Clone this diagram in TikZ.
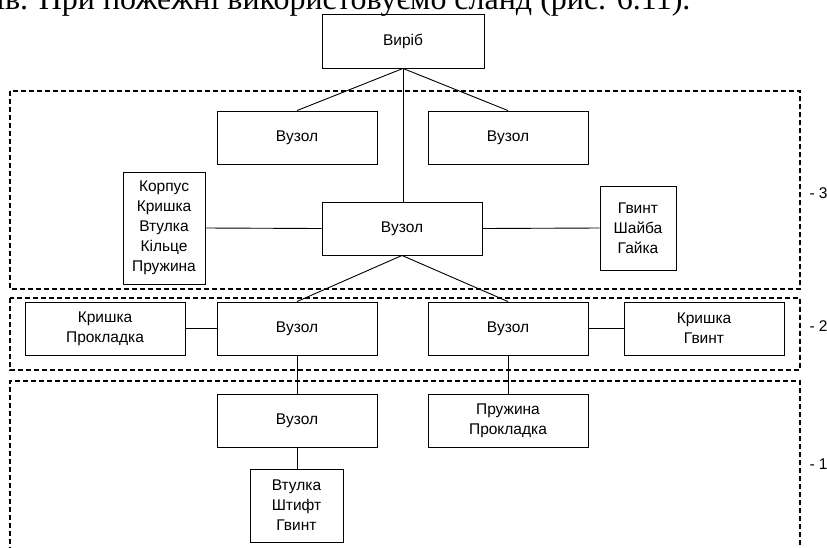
\documentclass[tikz,border=0pt]{standalone}
\usepackage{fontspec}
\setmainfont{Liberation Sans}
\newfontfamily\serifcap{Liberation Serif}
\begin{document}
\begin{tikzpicture}[x=1pt,y=-1pt,
  blk/.style={draw,line width=0.9pt,inner sep=0pt,align=center,
    font=\fontsize{15.5}{20}\selectfont},
  link/.style={line width=0.9pt},
  level/.style={line width=1.8pt,dash pattern=on 5pt off 3pt},
  lvl/.style={font=\fontsize{15.5}{18}\selectfont,anchor=west}]
\useasboundingbox (0,0) rectangle (827,547);
\clip (0,0) rectangle (827,547);

% running text line above the figure
\node[anchor=base west,inner sep=0pt,font=\serifcap\fontsize{32}{36}\selectfont] (txt) at (-4,9)
  {ів. При пожежні використовуємо сланд (рис. 6.11).};

% level frames
\draw[level] (10,91) rectangle (800,289);
\draw[level] (10,298) rectangle (800,370);
\draw[level] (10,560) -- (10,381) -- (800,381) -- (800,560);

% blocks
\node[blk,minimum width=162pt,minimum height=54pt] (top) at (403,41) {Виріб};
\node[blk,minimum width=160pt,minimum height=53pt] (a1) at (297,137.5) {Вузол};
\node[blk,minimum width=160pt,minimum height=53pt] (a2) at (508,137.5) {Вузол};
\node[blk,minimum width=82pt,minimum height=112pt] (l1) at (164,228) {Корпус\\Кришка\\Втулка\\Кільце\\Пружина};
\node[blk,minimum width=160pt,minimum height=53pt] (c) at (402,228.5) {Вузол};
\node[blk,minimum width=76pt,minimum height=84pt] (r1) at (638,228) {Гвинт\\Шайба\\Гайка};

\node[blk,minimum width=160pt,minimum height=53pt] (l2) at (105,328.5) {Кришка\\Прокладка};
\node[blk,minimum width=160pt,minimum height=53pt] (b1) at (297,328.5) {Вузол};
\node[blk,minimum width=160pt,minimum height=53pt] (b2) at (508,328.5) {Вузол};
\node[blk,minimum width=160pt,minimum height=53pt] (r2) at (704,328.5) {Кришка\\Гвинт};

\node[blk,minimum width=160pt,minimum height=53pt] (d1) at (297,420.5) {Вузол};
\node[blk,minimum width=160pt,minimum height=53pt] (d2) at (508,420.5) {Пружина\\Прокладка};
\node[blk,minimum width=93pt,minimum height=73pt] (e1) at (296.5,505.5) {Втулка\\Штифт\\Гвинт};

% connectors
\draw[link] (top.south) -- (a1.north);
\draw[link] (top.south) -- (a2.north);
\draw[link] (top.south) -- (c.north -| top.south);
\draw[link] (l1.east) -- (c.west);
\draw[link] (c.east) -- (r1.west);
\draw[link] (c.south) -- (b1.north);
\draw[link] (c.south) -- (b2.north);
\draw[link] (l2.east) -- (b1.west);
\draw[link] (b2.east) -- (r2.west);
\draw[link] (b1.south) -- (d1.north);
\draw[link] (b2.south) -- (d2.north);
\draw[link] (d1.south) -- (e1.north -| d1.south);

% level labels
\node[lvl] (n3) at (806,193) {- 3};
\node[lvl] (n2) at (806,326) {- 2};
\node[lvl] (n1) at (806,464) {- 1};
\end{tikzpicture}
\end{document}
